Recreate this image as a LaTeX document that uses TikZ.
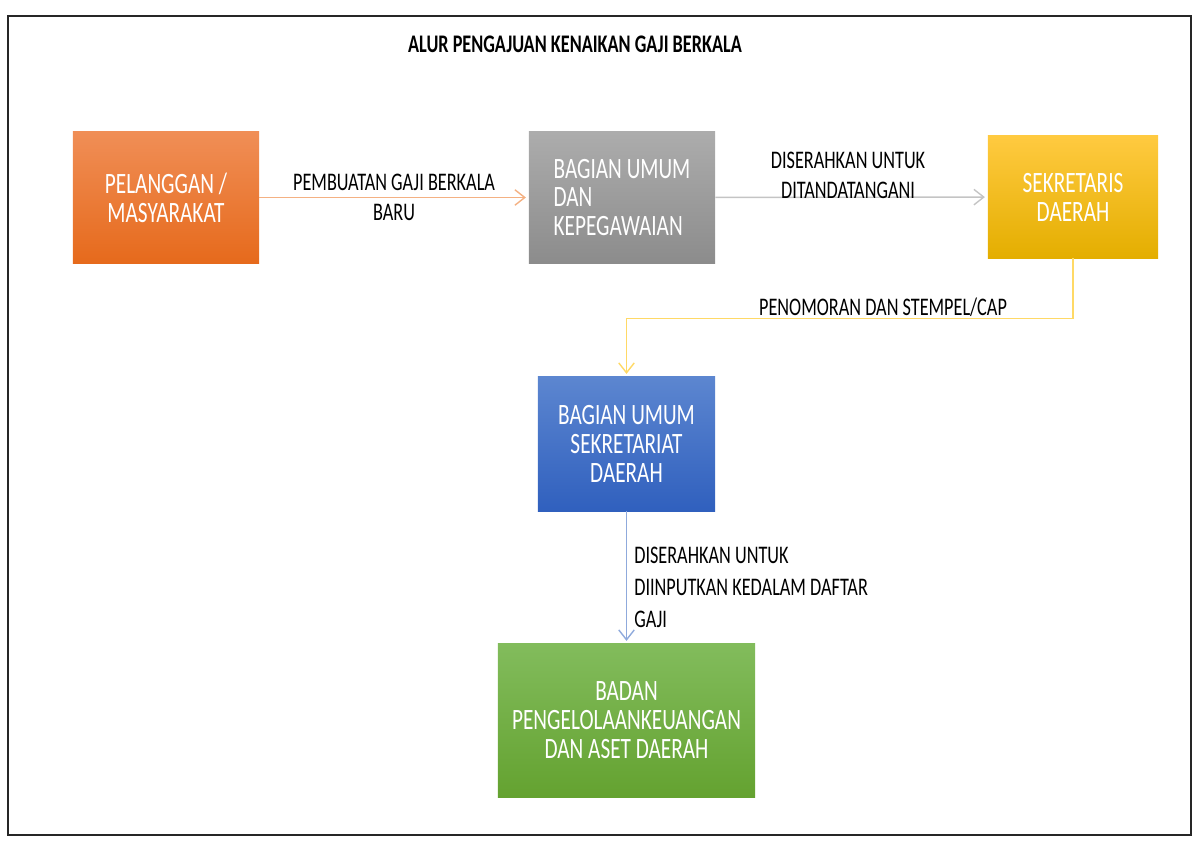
\documentclass[tikz,border=0pt]{standalone}
\usepackage{fontspec}
\setmainfont{Carlito}[FakeStretch=0.72]
\usepackage{tikz}
\usetikzlibrary{arrows.meta}
\definecolor{orgtop}{RGB}{240,142,86}
\definecolor{orgbot}{RGB}{230,106,28}
\definecolor{grytop}{RGB}{172,172,172}
\definecolor{grybot}{RGB}{140,140,140}
\definecolor{gldtop}{RGB}{255,202,64}
\definecolor{gldbot}{RGB}{228,174,0}
\definecolor{blutop}{RGB}{92,134,208}
\definecolor{blubot}{RGB}{48,96,190}
\definecolor{grntop}{RGB}{130,188,92}
\definecolor{grnbot}{RGB}{100,162,48}
\definecolor{arrorg}{RGB}{244,177,131}
\definecolor{arrgry}{RGB}{196,196,196}
\definecolor{arrgld}{RGB}{255,217,102}
\definecolor{arrblu}{RGB}{143,170,220}

\begin{document}
\begin{tikzpicture}[x=0.025cm,y=-0.025cm,
box/.style={inner sep=0pt, text=white, align=center, font=\fontsize{21}{20.6}\selectfont},
lbl/.style={inner sep=0pt, text=black, font=\fontsize{18}{21.3}\selectfont},
flow/.style={line width=1pt, -{Straight Barb[length=7pt,width=11pt]}, shorten >=2pt}]

\useasboundingbox (0,0) rectangle (1200,848);
\draw[line width=1.4pt, black!85] (8,16) rectangle (1191,835);

\node[lbl, font=\fontsize{18}{21}\selectfont\bfseries] (title) at (575,44) {ALUR PENGAJUAN KENAIKAN GAJI BERKALA};

\node[box, top color=orgtop, bottom color=orgbot, minimum width=4.65cm, minimum height=3.275cm]
(pel) at (166,197.5) {PELANGGAN /\\MASYARAKAT};
\node[box, align=left, top color=grytop, bottom color=grybot, minimum width=4.65cm, minimum height=3.275cm]
(bum) at (622,197.5) {BAGIAN UMUM\\DAN\\KEPEGAWAIAN};
\node[box, top color=gldtop, bottom color=gldbot, minimum width=4.25cm, minimum height=3.05cm]
(sek) at (1073,197) {SEKRETARIS\\DAERAH};
\node[box, top color=blutop, bottom color=blubot, minimum width=4.425cm, minimum height=3.35cm]
(bus) at (626.5,444) {BAGIAN UMUM\\SEKRETARIAT\\DAERAH};
\node[box, top color=grntop, bottom color=grnbot, minimum width=6.425cm, minimum height=3.825cm]
(bad) at (626.5,720.5) {BADAN\\PENGELOLAANKEUANGAN\\DAN ASET DAERAH};

\draw[flow, arrorg] (pel) -- (bum);
\draw[flow, arrgry] (bum) -- (sek);
\draw[flow, arrgld] (sek.south) -- ++(0,60) -| (bus.north);
\draw[flow, arrblu] (bus) -- (bad);

\node[lbl, align=center] (l1) at (394,197) {PEMBUATAN GAJI BERKALA\\BARU};
\node[lbl, align=center] (l2) at (848,175) {DISERAHKAN UNTUK\\DITANDATANGANI};
\node[lbl] (l3) at (883,307) {PENOMORAN DAN STEMPEL/CAP};
\node[lbl, align=left, anchor=west, font=\fontsize{18}{22.8}\selectfont] (l4) at (634,587) {DISERAHKAN UNTUK\\DIINPUTKAN KEDALAM DAFTAR\\GAJI};
\end{tikzpicture}
\end{document}
